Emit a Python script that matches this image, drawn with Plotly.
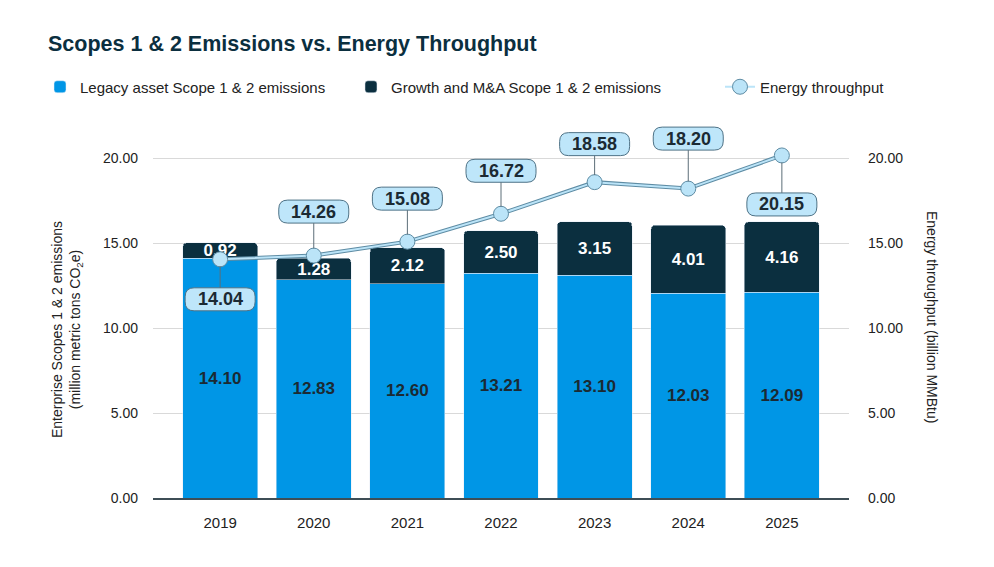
import plotly.graph_objects as go

# data
years = ["2019", "2020", "2021", "2022", "2023", "2024", "2025"]
legacy = [14.10, 12.83, 12.60, 13.21, 13.10, 12.03, 12.09]
growth = [0.92, 1.28, 2.12, 2.50, 3.15, 4.01, 4.16]
throughput = [14.04, 14.26, 15.08, 16.72, 18.58, 18.20, 20.15]
y_ticks = [0, 5, 10, 15, 20]

# pixel offset of each callout box from its point (+ = below)
callout_offsets = [40, -44, -43, -43, -38, -50, 49]

BLUE = "#0096E6"
DARK = "#0B2F3F"
LINE_FILL = "#BBE4F8"
LINE_EDGE = "#5E8CA4"
TEXT = "#222222"
FONT = "Liberation Sans"
NB = "\u00a0"  # extra room between legend entries

xs = list(range(len(years)))  # category slots

fig = go.Figure()

fig.add_trace(go.Bar(
    x=xs, y=legacy, name="Legacy asset Scope 1 & 2 emissions" + NB * 5,
    marker=dict(color=BLUE),
    text=[f"{v:.2f}" for v in legacy], textposition="inside",
    insidetextanchor="middle", textangle=0,
    textfont=dict(color="#1B2A33", size=17, family=FONT, weight="bold"),
))
fig.add_trace(go.Bar(
    x=xs, y=growth, name="Growth and M&A Scope 1 & 2 emissions",
    marker=dict(color=DARK),
    text=[f"{v:.2f}" for v in growth], textposition="inside",
    insidetextanchor="middle", textangle=0,
    textfont=dict(color="white", size=17, family=FONT, weight="bold"),
))

# outline under the line to get the two-tone stroke
fig.add_trace(go.Scatter(
    x=xs, y=throughput, yaxis="y2", mode="lines",
    line=dict(color=LINE_EDGE, width=4), showlegend=False, hoverinfo="skip",
))
fig.add_trace(go.Scatter(
    x=xs, y=throughput, yaxis="y2", mode="lines+markers",
    name="Energy throughput", legend="legend2",
    line=dict(color=LINE_FILL, width=2),
    marker=dict(size=15, color=LINE_FILL, line=dict(color=LINE_EDGE, width=1)),
))


def pill_path(w, h, cy, r=9):
    x0, x1 = -w / 2, w / 2
    y0, y1 = cy - h / 2, cy + h / 2
    return (f"M{x0 + r},{y0} L{x1 - r},{y0} Q{x1},{y0} {x1},{y0 + r} "
            f"L{x1},{y1 - r} Q{x1},{y1} {x1 - r},{y1} L{x0 + r},{y1} "
            f"Q{x0},{y1} {x0},{y1 - r} L{x0},{y0 + r} Q{x0},{y0} {x0 + r},{y0} Z")


shapes = []
annotations = []
for xi, v, off in zip(xs, throughput, callout_offsets):
    shapes.append(dict(
        type="path", xref="x", yref="y2", xsizemode="pixel", ysizemode="pixel",
        xanchor=xi, yanchor=v, path=pill_path(70, 23, -off),
        fillcolor="#BEE6FA", line=dict(color="#4E7286", width=1), layer="above",
    ))
    annotations.append(dict(
        x=xi, y=v, xref="x", yref="y2", text=f"<b>{v:.2f}</b>",
        showarrow=True, ax=0, ay=off, arrowhead=0, arrowwidth=1,
        arrowcolor="#5C6E78", standoff=7,
        font=dict(size=18, color="#1B2A33", family=FONT),
    ))

annotations.append(dict(
    xref="paper", yref="paper", x=0, y=0.449, xshift=-86, xanchor="center", yanchor="middle",
    text="Enterprise Scopes 1 & 2 emissions<br>(million metric tons CO<sub>2</sub>e)",
    textangle=-90, showarrow=False, font=dict(size=14, color=TEXT, family=FONT),
))
annotations.append(dict(
    xref="paper", yref="paper", x=1, y=0.484, xshift=83, xanchor="center", yanchor="middle",
    text="Energy throughput (billion MMBtu)",
    textangle=90, showarrow=False, font=dict(size=14, color=TEXT, family=FONT),
))

legend_y = 1 + (124 - 87) / 374

fig.update_layout(
    width=994, height=567,
    paper_bgcolor="white", plot_bgcolor="white",
    margin=dict(l=145, r=153, t=116, b=77),
    barmode="stack", bargap=0.2, barcornerradius=4,
    uniformtext=dict(minsize=17, mode="show"),
    font=dict(family=FONT, size=14, color=TEXT),
    title=dict(
        text="Scopes 1 & 2 Emissions vs. Energy Throughput",
        x=40 / 994, xanchor="left", xref="container",
        y=1 - 35 / 567, yanchor="middle", yref="container",
        font=dict(size=21.5, color=DARK, family=FONT, weight="bold"),
    ),
    legend=dict(
        orientation="h", xref="paper", yref="paper",
        x=(32 - 145) / 696, xanchor="left", y=legend_y, yanchor="middle",
        font=dict(size=15, color=TEXT), traceorder="normal",
    ),
    legend2=dict(
        orientation="h", xref="paper", yref="paper",
        x=(712 - 145) / 696, xanchor="left", y=legend_y, yanchor="middle",
        font=dict(size=15, color=TEXT),
    ),
    xaxis=dict(
        range=[-0.717, 6.717], tickvals=xs, ticktext=years, showgrid=False,
        zeroline=False, showline=True, linecolor="#3E4E56", linewidth=1.5,
        ticks="", ticklabelstandoff=10, tickfont=dict(size=15, color=TEXT),
    ),
    yaxis=dict(
        range=[0, 22], tickvals=y_ticks, tickformat=".2f",
        showgrid=True, gridcolor="#D9D9D9", gridwidth=1, zeroline=False,
        ticks="", ticklabelstandoff=14, tickfont=dict(size=14, color=TEXT),
    ),
    yaxis2=dict(
        range=[0, 22], tickvals=y_ticks, tickformat=".2f", overlaying="y",
        side="right", showgrid=False, zeroline=False,
        ticks="", ticklabelstandoff=18, tickfont=dict(size=14, color=TEXT),
    ),
    shapes=shapes,
    annotations=annotations,
    showlegend=True,
)

fig.write_html("out.html")
